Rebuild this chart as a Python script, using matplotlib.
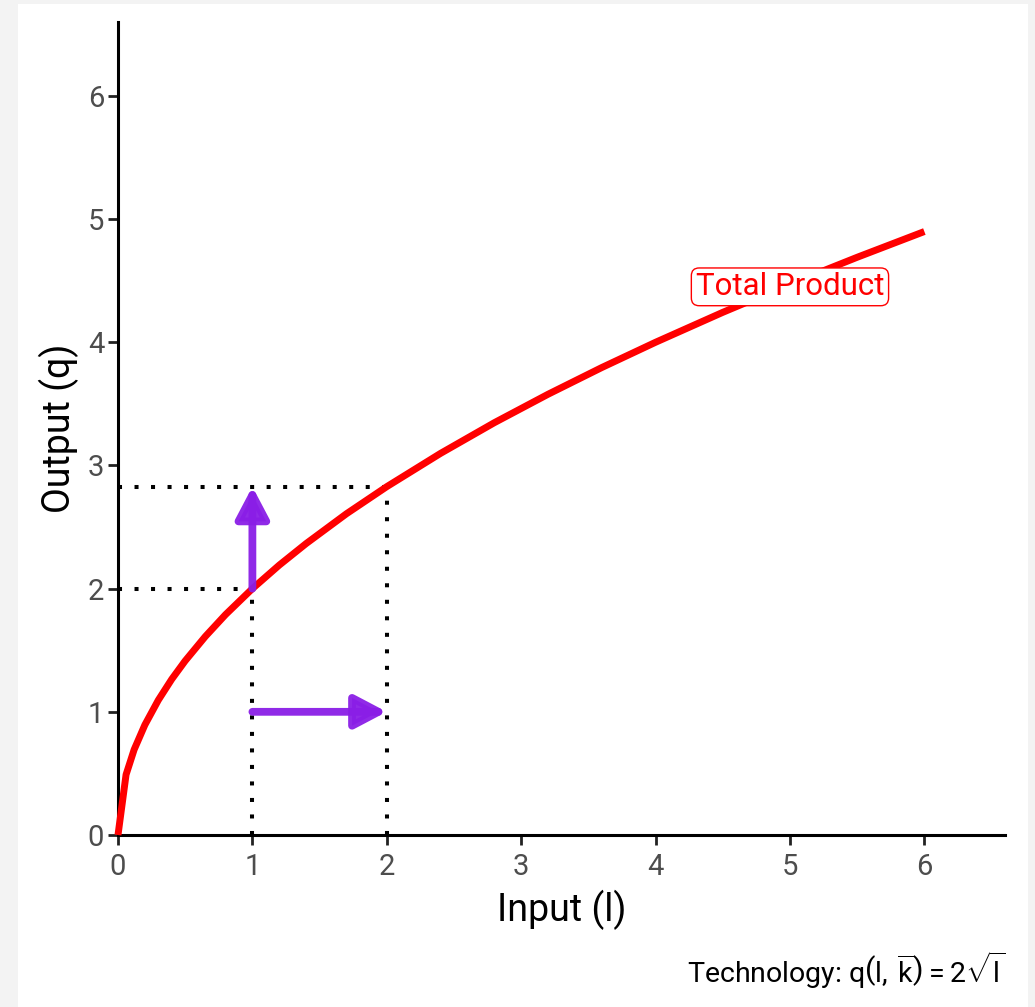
import matplotlib
matplotlib.use("Agg")
import matplotlib.pyplot as plt
from matplotlib.patches import Rectangle

plt.rcParams['font.family'] = ['Roboto', 'DejaVu Sans']
plt.rcParams['mathtext.fontset'] = 'custom'
plt.rcParams['mathtext.rm'] = 'Roboto'

# total product curve
labor = [0, 0.06, 0.12, 0.2, 0.3, 0.4, 0.5, 0.65, 0.8, 1.0, 1.2, 1.4, 1.7,
         2.0, 2.4, 2.8, 3.2, 3.6, 4.0, 4.5, 5.0, 5.5, 6.0]
output = [0, 0.490, 0.693, 0.894, 1.095, 1.265, 1.414, 1.612, 1.789, 2.0,
          2.191, 2.366, 2.608, 2.828, 3.098, 3.347, 3.578, 3.795, 4.0,
          4.243, 4.472, 4.690, 4.899]

# guide points
l_low, l_high = 1, 2
q_low, q_high = 2.0, 2.828
arrow_y = 1

ticks = [0, 1, 2, 3, 4, 5, 6]
curve_label = "Total Product"
curve_label_pos = (5.0, 4.45)

red = '#ff0000'
purple = '#8a1ee6'

fig = plt.figure(figsize=(10.35, 10.07), dpi=100, facecolor='white')
# grey frame strips at top, left and right
grey = '#f3f3f3'
for x0, y0, w, h in [(0, 0, 18, 1007), (1028, 0, 7, 1007), (0, 1003, 1035, 4)]:
    fig.patches.append(Rectangle((x0 / 1035, y0 / 1007), w / 1035, h / 1007,
                                 transform=fig.transFigure, facecolor=grey,
                                 edgecolor='none', zorder=-10))
ax = fig.add_axes([118 / 1035, 1 - 835 / 1007, 887 / 1035, 813 / 1007])
ax.set_facecolor('none')

dot = dict(color='black', lw=2.9, linestyle=(0, (1, 3.1)), zorder=2)
ax.plot([0, l_low], [q_low, q_low], **dot)
ax.plot([0, l_high], [q_high, q_high], **dot)
ax.plot([l_low, l_low], [0, q_low], **dot)
ax.plot([l_high, l_high], [0, q_high], **dot)

ax.plot(labor, output, color=red, lw=5.0, zorder=3, clip_on=False,
        solid_capstyle='butt')

arrow = dict(arrowstyle='-|>,head_length=1.9,head_width=1.0', color=purple,
             lw=5.6, shrinkA=0, shrinkB=0, joinstyle='round', alpha=0.95)
ax.annotate('', xy=(l_low, q_high), xytext=(l_low, q_low),
            arrowprops=arrow, zorder=4)
ax.annotate('', xy=(l_high, arrow_y), xytext=(l_low, arrow_y),
            arrowprops=arrow, zorder=4)

ax.text(*curve_label_pos, curve_label, color=red, fontsize=22.5,
        ha='center', va='center', zorder=5,
        bbox=dict(boxstyle='round,pad=0.14,rounding_size=0.25', fc='white',
                  ec=red, lw=1.0))

ax.set_xlim(0, 6.6)
ax.set_ylim(0, 6.6)
ax.set_xticks(ticks)
ax.set_yticks(ticks)
ax.spines['top'].set_visible(False)
ax.spines['right'].set_visible(False)
for s in ('left', 'bottom'):
    ax.spines[s].set_linewidth(2.2)
    ax.spines[s].set_color('black')
ax.tick_params(length=7, width=2, color='#222222', labelcolor='#4d4d4d',
               labelsize=21, pad=3)
ax.tick_params(axis='x', pad=6)

ax.set_xlabel('Input (l)', fontsize=27, labelpad=6)
ax.set_ylabel('Output (q)', fontsize=27, labelpad=6)

fig.text(1005 / 1035, 1 - 970 / 1007,
         r'Technology: $\mathrm{q}\left(\mathrm{l},\,\overline{\mathrm{k}}\right) = 2\sqrt{\mathrm{l}}$',
         ha='right', va='center', fontsize=20.5)

fig.savefig('out.png', dpi=100, facecolor=fig.get_facecolor())
